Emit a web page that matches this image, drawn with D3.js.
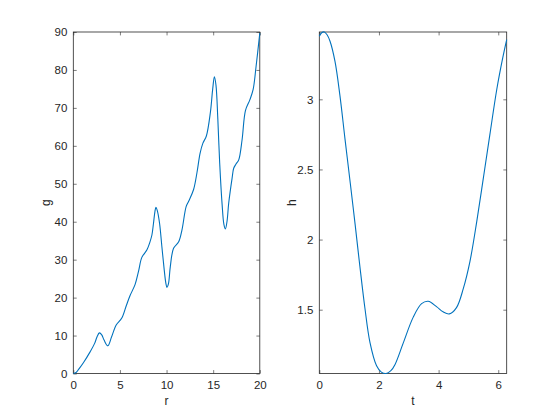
<!DOCTYPE html>
<html><head><meta charset="utf-8">
<script src="https://cdn.jsdelivr.net/npm/d3@7"></script>
<style>body{margin:0;background:#fff}svg{display:block}text{font-family:"Liberation Sans",Arial,sans-serif}</style>
</head><body><div id="c"></div>
<script>
// Left subplot data: g vs r
const rVals = [0,0.3,0.6,1.1,1.8,2.3,2.55,2.8,3.05,3.3,3.7,4.1,4.6,5.2,5.7,6.1,6.63,7.0,7.35,7.9,8.2,8.43,8.6,8.75,8.86,9.0,9.25,9.5,9.75,9.92,10.04,10.2,10.4,10.75,11.3,11.65,12.1,12.37,12.9,13.26,13.6,13.9,14.27,14.7,14.95,15.13,15.3,15.5,15.7,15.96,16.15,16.31,16.48,16.67,17.03,17.2,17.45,17.74,18.1,18.46,18.93,19.28,19.6,20];
const gVals = [0,0.25,1.2,2.9,5.7,8,9.7,10.7,10.2,8.8,7.3,9.6,12.8,14.6,18,20.6,23.5,27,30.6,32.6,34.5,36.5,39.6,42.6,43.8,43,39.6,33.4,27.3,23.9,22.7,23.6,28.1,33,34.7,37.8,44,45.4,48.5,52.9,58.1,60.7,62.6,68.8,75,78.2,76,67,55.4,44.5,39.3,38.1,40,45,51.5,54.1,55.2,56.3,61.6,69.3,72.1,74.8,80.9,89.7];
const rTicks = [0,5,10,15,20];
const gTicks = [0,10,20,30,40,50,60,70,80,90];
const rLim = [0,20], gLim = [0,90];

// Right subplot data: h vs t
const tVals = [0,0.08,0.168,0.26,0.36,0.526,0.69,0.86,1.04,1.2,1.36,1.53,1.70,1.92,2.08,2.24,2.4,2.54,2.81,3.15,3.43,3.65,3.94,4.15,4.36,4.6,4.83,5.05,5.28,5.5,5.72,5.95,6.15,6.283];
const hVals = [3.45,3.475,3.48,3.46,3.414,3.27,3.03,2.72,2.40,2.11,1.81,1.51,1.265,1.10,1.055,1.045,1.065,1.11,1.26,1.447,1.543,1.56,1.52,1.485,1.47,1.515,1.652,1.843,2.13,2.438,2.75,3.07,3.295,3.426];
const tTicks = [0,2,4,6];
const hTicks = [1.5,2,2.5,3];
const tLim = [0,2*Math.PI], hLim = [1.045,3.48];

const W=560,H=420, ink="#262626", lineColor="#0072BD";
const svg=d3.select("#c").append("svg").attr("width",W).attr("height",H);

function panel(x0,x1,y0,y1,xs,ys,xT,yT,xLabel,yLabel,xd,yd){
  const x=d3.scaleLinear().domain(xd).range([x0,x1]);
  const y=d3.scaleLinear().domain(yd).range([y1,y0]);
  const g=svg.append("g");
  const tl=3.4;
  const style=a=>{a.select(".domain").remove();a.selectAll("line").attr("stroke",ink).attr("stroke-width",0.6);
    a.selectAll("text").attr("fill",ink).style("font-size","11.5px");};
  g.append("g").attr("transform",`translate(0,${y1})`).call(d3.axisBottom(x).tickValues(xT).tickSize(-tl).tickPadding(7).tickFormat(d3.format("d"))).call(style);
  g.append("g").attr("transform",`translate(0,${y0})`).call(d3.axisTop(x).tickValues(xT).tickSize(-tl).tickFormat("")).call(style);
  g.append("g").attr("transform",`translate(${x0},0)`).call(d3.axisLeft(y).tickValues(yT).tickSize(-tl).tickPadding(6).tickFormat(d=>String(d))).call(style);
  g.append("g").attr("transform",`translate(${x1},0)`).call(d3.axisRight(y).tickValues(yT).tickSize(-tl).tickFormat("")).call(style);
  g.append("rect").attr("x",x0).attr("y",y0).attr("width",x1-x0).attr("height",y1-y0).attr("fill","none").attr("stroke",ink).attr("stroke-width",0.8);
  const data=xs.map((v,i)=>[v,ys[i]]);
  g.append("path").datum(data).attr("fill","none").attr("stroke",lineColor).attr("stroke-width",1.1)
    .attr("d",d3.line().x(d=>x(d[0])).y(d=>y(d[1])).curve(d3.curveCatmullRom.alpha(0.5)));
  g.append("text").attr("x",(x0+x1)/2).attr("y",y1+31).attr("text-anchor","middle").attr("fill",ink).style("font-size","12px").text(xLabel);
  g.append("text").attr("transform",`translate(${x0-23},${(y0+y1)/2}) rotate(-90)`).attr("text-anchor","middle").attr("fill",ink).style("font-size","12px").text(yLabel);
}
panel(73.3,259.8,32,373.5,rVals,gVals,rTicks,gTicks,"r","g",rLim,gLim);
panel(319.3,506.7,32,373.5,tVals,hVals,tTicks,hTicks,"t","h",tLim,hLim);
</script></body></html>
